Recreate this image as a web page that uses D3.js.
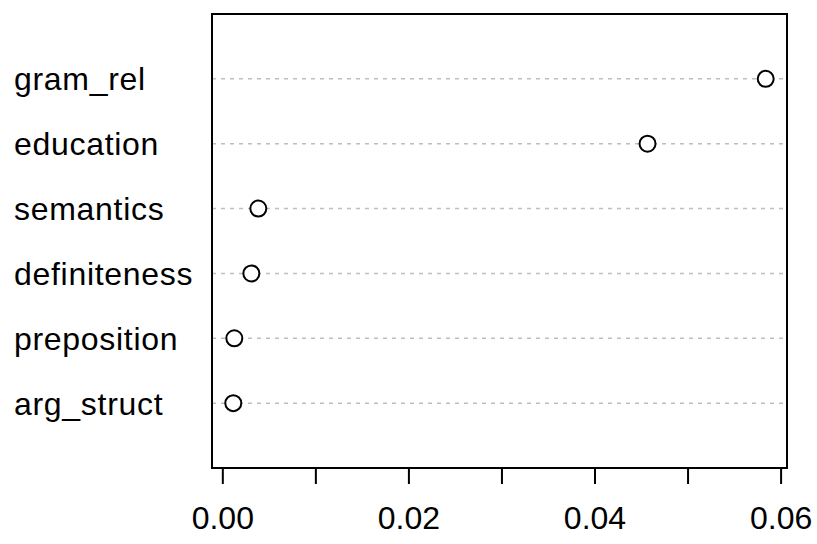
<!DOCTYPE html>
<html>
<head>
<meta charset="utf-8">
<script src="https://cdn.jsdelivr.net/npm/d3@7"></script>
<style>
  body { margin: 0; background: #fff; }
  text { font-family: "Liberation Sans", Arial, Helvetica, sans-serif; }
</style>
</head>
<body>
<div id="container"></div>
<script>
/* CONSTANTS AND GLOBALS */
const width = 817;
const height = 544;
const margin = { top: 14, right: 30, bottom: 76, left: 212 };

/* DATA (bottom to top, like R's dotchart) */
const labels = ["arg_struct", "preposition", "definiteness", "semantics", "education", "gram_rel"];
const values = [0.00118, 0.00129, 0.00312, 0.00387, 0.0457, 0.0584];
const tickValues = [0, 0.01, 0.02, 0.03, 0.04, 0.05, 0.06];
const tickLabels = ["0.00", "", "0.02", "", "0.04", "", "0.06"];

/* SCALES */
// R pads the x range by 4% each side
const lo = d3.min(values), hi = d3.max(values);
const pad = (hi - lo) * 0.04;
const xScale = d3.scaleLinear()
  .domain([lo - pad, hi + pad])
  .range([margin.left, width - margin.right]);

const yScale = d3.scaleLinear()
  .domain([0, labels.length + 1])
  .range([height - margin.bottom, margin.top]);

/* HTML ELEMENTS */
const svg = d3.select("#container")
  .append("svg")
  .attr("width", width)
  .attr("height", height);

// dotted guide lines
svg.selectAll("line.guide")
  .data(values)
  .join("line")
  .attr("class", "guide")
  .attr("x1", xScale.range()[0])
  .attr("x2", xScale.range()[1])
  .attr("y1", (d, i) => yScale(i + 1))
  .attr("y2", (d, i) => yScale(i + 1))
  .attr("stroke", "#bebebe")
  .attr("stroke-width", 1.5)
  .attr("stroke-dasharray", "4,5");

// points
svg.selectAll("circle")
  .data(values)
  .join("circle")
  .attr("cx", d => xScale(d))
  .attr("cy", (d, i) => yScale(i + 1))
  .attr("r", 8)
  .attr("fill", "white")
  .attr("stroke", "black")
  .attr("stroke-width", 2);

// row labels
svg.selectAll("text.label")
  .data(labels)
  .join("text")
  .attr("class", "label")
  .attr("x", 14)
  .attr("y", (d, i) => yScale(i + 1))
  .attr("dy", "0.36em")
  .style("font-size", "32px")
  .style("letter-spacing", "0.7px")
  .style("fill", "black")
  .text(d => d);

// box
svg.append("rect")
  .attr("x", xScale.range()[0])
  .attr("y", margin.top)
  .attr("width", xScale.range()[1] - xScale.range()[0])
  .attr("height", height - margin.bottom - margin.top)
  .attr("fill", "none")
  .attr("stroke", "black")
  .attr("stroke-width", 2);

// x axis
const xAxis = d3.axisBottom(xScale)
  .tickValues(tickValues)
  .tickFormat((d, i) => tickLabels[i])
  .tickSize(16)
  .tickPadding(22);

const gx = svg.append("g")
  .attr("transform", `translate(0,${height - margin.bottom})`)
  .call(xAxis);
gx.select(".domain").remove();
gx.selectAll(".tick line").attr("stroke", "black").attr("stroke-width", 2);
gx.selectAll(".tick text")
  .style("font-size", "32px")
  .style("font-family", "'Liberation Sans', Arial, sans-serif")
  .attr("fill", "black");
</script>
</body>
</html>
